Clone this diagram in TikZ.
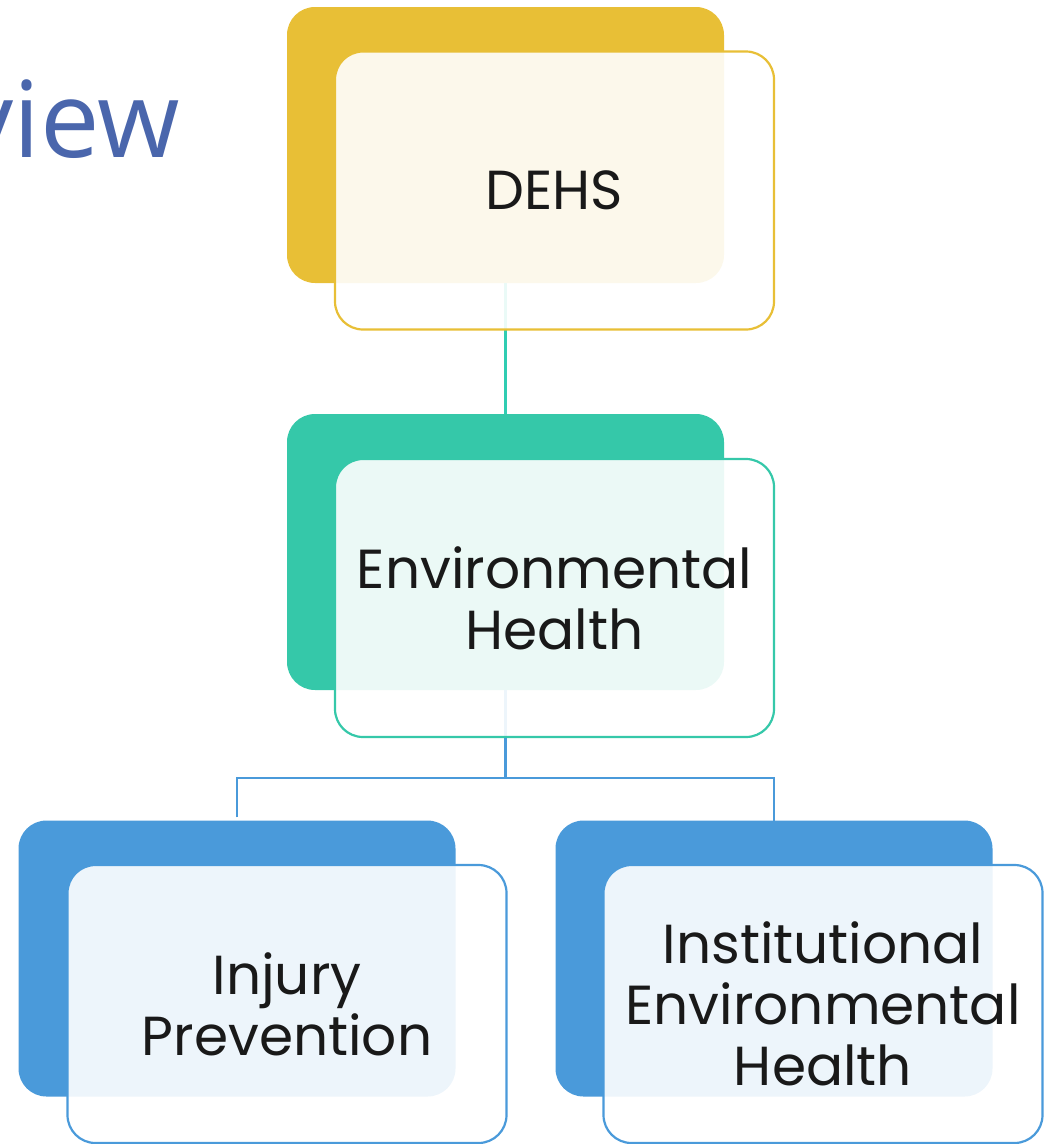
\documentclass[tikz,border=0pt]{standalone}
\usepackage{fontspec}
\setmainfont{Poppins}
\newfontfamily\titlefont{Open Sans}
\definecolor{cyellow}{HTML}{E8BF36}
\definecolor{cgreen}{HTML}{35C8A9}
\definecolor{cblue}{HTML}{4A9ADA}
\definecolor{ctitle}{HTML}{4A66AC}
\tikzset{
  backbox/.style={rectangle, rounded corners=28pt, minimum width=437pt, minimum height=276pt, inner sep=0pt, fill=#1},
  frontbox/.style={rectangle, rounded corners=28pt, minimum width=439pt, minimum height=278pt, inner sep=0pt, draw=#1, line width=2.2pt, fill=white, fill opacity=0.9, text opacity=1, align=center, text=black!90, font=\fontsize{55}{61}\selectfont},
  conn/.style={draw=#1, line width=2.8pt}
}
\begin{document}
\begin{tikzpicture}[x=1pt,y=-1pt]
\useasboundingbox (0,0) rectangle (1053,1144);
\clip (0,0) rectangle (1053,1144);
\node[anchor=base east, text=ctitle, font=\titlefont\fontsize{106}{110}\selectfont, inner sep=0pt] (title) at (180,157) {Overview};
% back boxes
\node[backbox=cyellow] (dehsB) at (505.5,145) {};
\node[backbox=cgreen] (envB) at (505.5,552) {};
\node[backbox=cblue] (injB) at (237,958.5) {};
\node[backbox=cblue] (insB) at (774,958.5) {};
% connectors
\coordinate (j) at (505.5,778);
\draw[conn=cgreen!90!cyan] (dehsB.south) -- (envB.north);
\draw[conn=cblue] (envB.south) -- (j);
\draw[conn=cblue] (injB.north) ++(0,-3) -- (injB.north |- j) -- (insB.north |- j) -- ([yshift=-3pt]insB.north);
% front boxes
\node[frontbox=cyellow] (dehs) at (554.5,190.5) {DEHS};
\node[frontbox=cgreen] (env) at (554.5,598) {Environmental\\Health};
\node[frontbox=cblue] (inj) at (287,1004) {Injury\\Prevention};
\node[frontbox=cblue] (ins) at (823,1004) {Institutional\\Environmental\\Health};
\end{tikzpicture}
\end{document}
